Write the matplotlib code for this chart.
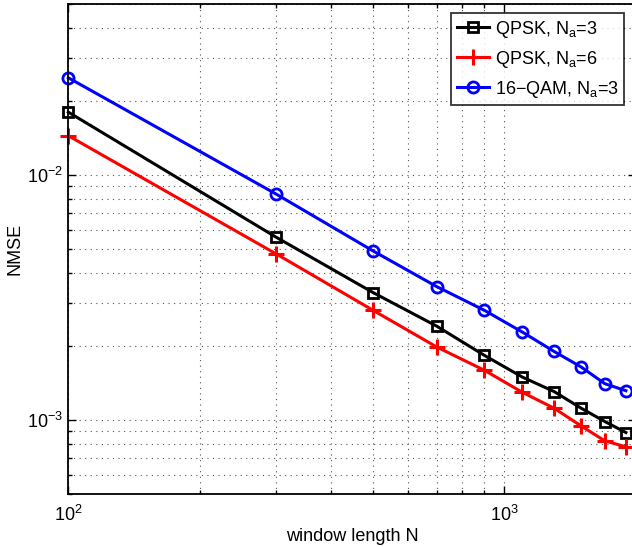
import matplotlib
matplotlib.use("Agg")
import matplotlib.pyplot as plt
from matplotlib.ticker import LogLocator, NullFormatter

plt.rcParams['font.family'] = ['Liberation Sans', 'DejaVu Sans']
plt.rcParams['mathtext.fontset'] = 'custom'
plt.rcParams['mathtext.rm'] = 'Liberation Sans'
plt.rcParams['mathtext.it'] = 'Liberation Sans:italic'
plt.rcParams['mathtext.default'] = 'regular'

N = [100, 300, 500, 700, 900, 1100, 1300, 1500, 1700, 1900]
qpsk_na3 = [0.0181, 0.00558, 0.00332, 0.00242, 0.00184, 0.00150, 0.00131, 0.00112, 0.000988, 0.000891]
qpsk_na6 = [0.0145, 0.00477, 0.00281, 0.00199, 0.00160, 0.00130, 0.00112, 0.000948, 0.000824, 0.000779]
qam16_na3 = [0.0250, 0.00837, 0.00491, 0.00351, 0.00281, 0.00229, 0.00191, 0.00165, 0.00141, 0.00132]
labels = [r'QPSK, N$_{a}$=3', r'QPSK, N$_{a}$=6', r'16$-$QAM, N$_{a}$=3']

W, H = 632, 547
fig = plt.figure(figsize=(W / 100, H / 100), dpi=100)
left, right, top, bottom = 68.3, 635.6, 4, 494
ax = fig.add_axes([left / W, 1 - bottom / H, (right - left) / W, (bottom - top) / H])

ax.plot(N, qpsk_na3, color='black', lw=2.2, marker='s', ms=7, mfc='none', mec='black', mew=2, label=labels[0], clip_on=False)
ax.plot(N, qpsk_na6, color='#ff0000', lw=2.2, marker='+', ms=11, mew=2.2, label=labels[1], clip_on=False)
ax.plot(N, qam16_na3, color='#0000ff', lw=2.2, marker='o', ms=8, mfc='none', mec='#0000ff', mew=2, label=labels[2], clip_on=False)

ax.set_xscale('log')
ax.set_yscale('log')
ax.set_xlim(100, 2000)
ax.set_ylim(5e-4, 5e-2)

ax.xaxis.set_major_locator(LogLocator(base=10, numticks=10))
ax.xaxis.set_minor_locator(LogLocator(base=10, subs=range(2, 10), numticks=20))
ax.yaxis.set_major_locator(LogLocator(base=10, numticks=10))
ax.yaxis.set_minor_locator(LogLocator(base=10, subs=range(2, 10), numticks=20))
ax.xaxis.set_minor_formatter(NullFormatter())
ax.yaxis.set_minor_formatter(NullFormatter())

ax.grid(True, which='both', linestyle=(0, (1, 4)), color='#555555', lw=0.8)
ax.tick_params(which='both', direction='in', top=True, right=True, labelsize=13, width=1)
ax.tick_params(which='major', length=6)
ax.tick_params(which='minor', length=3)
ax.tick_params(axis='x', pad=8)
for s in ax.spines.values():
    s.set_linewidth(1.3)

ax.set_xlabel('window length N', fontsize=13, labelpad=2)
ax.set_ylabel('NMSE', fontsize=13, labelpad=3)

leg = ax.legend(loc='upper right', bbox_to_anchor=((624 - left) / (right - left), 1 - (13.3 - top) / (bottom - top)),
                fontsize=13, frameon=True, fancybox=False, edgecolor='black', handlelength=1.8,
                handletextpad=0.3, borderpad=0.3, labelspacing=0.5, borderaxespad=0)
leg.get_frame().set_linewidth(1.3)

fig.savefig('out.png', dpi=100)
